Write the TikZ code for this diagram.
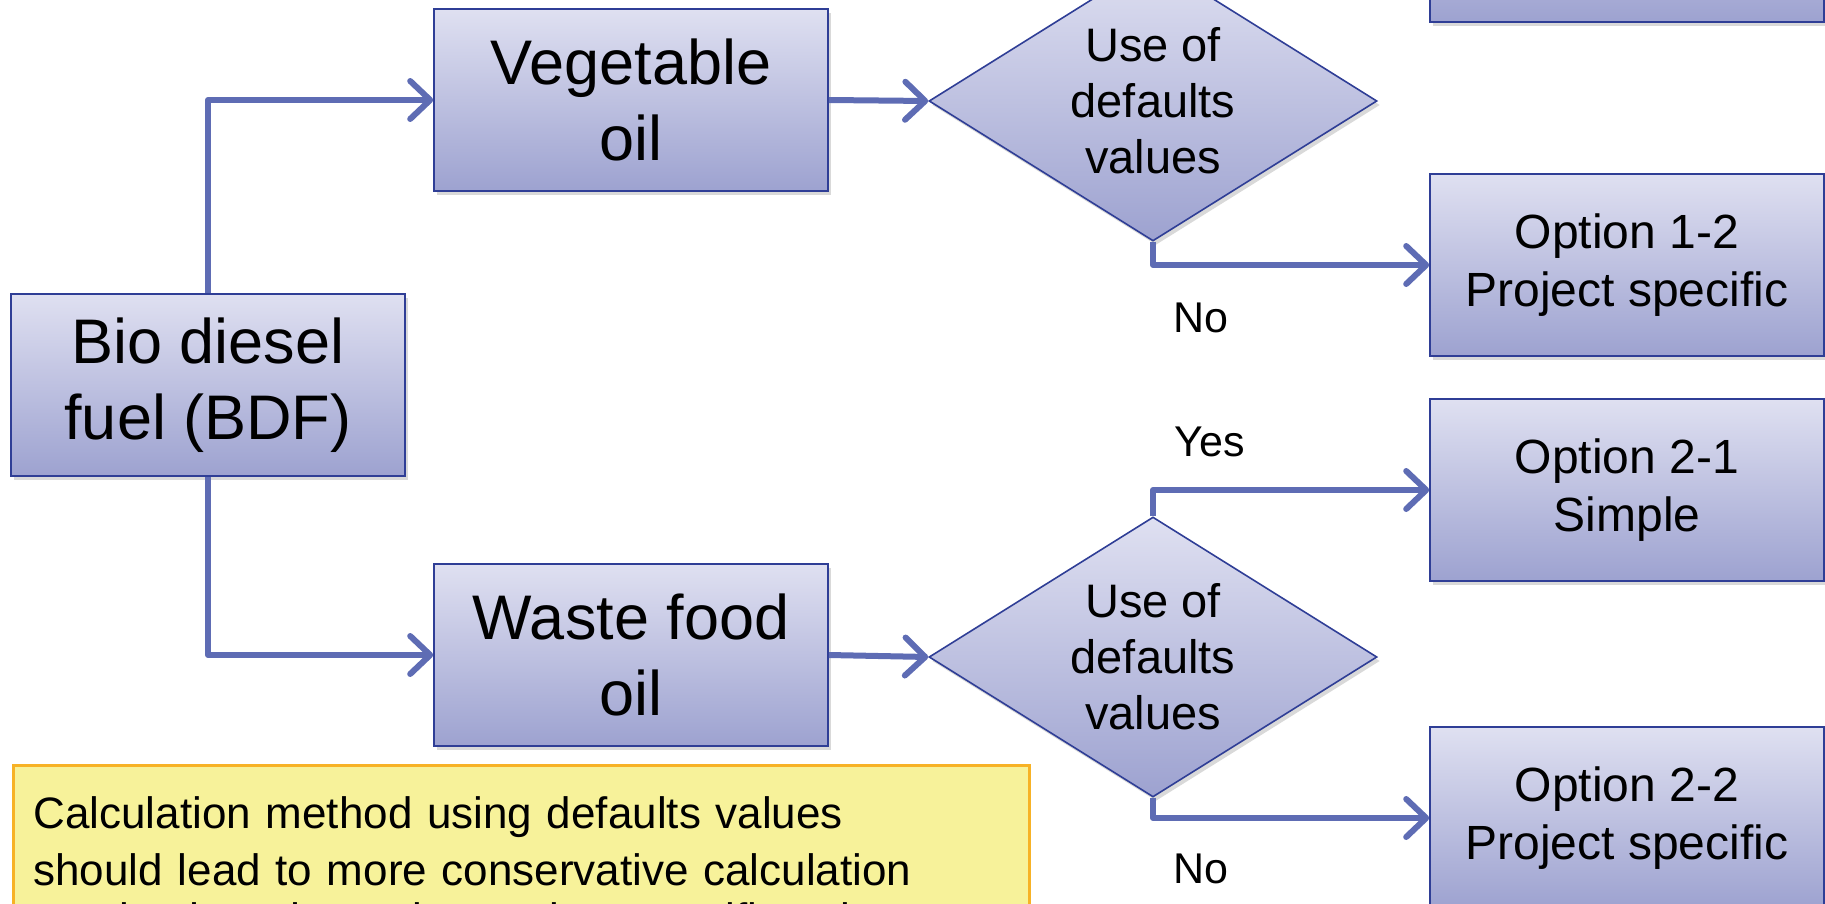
\documentclass[tikz,border=0pt]{standalone}
\usepackage{fontspec}
\setmainfont{Liberation Sans}
\usetikzlibrary{arrows.meta, shapes.geometric, shadows, positioning}
\definecolor{boxtop}{RGB}{223,224,241}
\definecolor{boxbottom}{RGB}{157,162,208}
\definecolor{boxline}{RGB}{47,62,150}
\definecolor{flowline}{RGB}{94,108,180}
\definecolor{notefill}{RGB}{247,242,154}
\definecolor{noteline}{RGB}{247,178,38}

\begin{document}
\begin{tikzpicture}
    [
        x=0.5pt, y=-0.5pt,
        box/.style={draw=boxline, line width=0.8pt, top color=boxtop, bottom color=boxbottom,
            minimum width=197pt, minimum height=91pt, align=center,
            font=\fontsize{31.5}{38}\selectfont,
            drop shadow={opacity=0.3, shadow xshift=1.5pt, shadow yshift=-2pt}},
        optbox/.style={box, font=\fontsize{24}{29}\selectfont},
        decision/.style={diamond, aspect=1.58, draw=boxline, line width=0.8pt, top color=boxtop, bottom color=boxbottom,
            minimum width=224pt, minimum height=140pt, inner sep=0pt, align=center,
            font=\fontsize{23.5}{28}\selectfont,
            drop shadow={opacity=0.3, shadow xshift=1.5pt, shadow yshift=-2pt}},
        answer/.style={font=\fontsize{21.5}{26}\selectfont},
        notebox/.style={draw=noteline, line width=1.5pt, fill=notefill, align=left,
            anchor=north west, minimum width=508pt, minimum height=105pt,
            inner xsep=10pt, inner ysep=5pt, text width=488pt,
            font=\fontsize{22}{28.5}\selectfont}
    ]
    \tikzstyle{line} = [draw=flowline, line width=3pt, line join=round,
        -{Straight Barb[length=10pt, width=19pt, round]}]

    \useasboundingbox (0,0) rectangle (1825,904);

    % Feedstock
    \node[box] (bdf) at (208,385) {Bio diesel\\fuel (BDF)};
    \node[box] (vegoil) at (631,100) {Vegetable\\oil};
    \node[box] (wasteoil) at (631,655) {Waste food\\oil};

    % Decisions
    \node[decision] (dec_veg) at (1153,101) {Use of\\defaults\\values};
    \node[decision] (dec_waste) at (1153,657) {Use of\\defaults\\values};

    % Options
    \node[optbox] (opt_11) at (1627,-69) {};
    \node[optbox] (opt_12) at (1627,265) {Option 1-2\\Project specific};
    \node[optbox] (opt_21) at (1627,490) {Option 2-1\\Simple};
    \node[optbox] (opt_22) at (1627,818) {Option 2-2\\Project specific};

    \path[line] (bdf.north) |- (vegoil.west);
    \path[line] (bdf.south) |- (wasteoil.west);
    \path[line] (vegoil.east) -- (dec_veg.west);
    \path[line] (wasteoil.east) -- (dec_waste.west);
    \path[line] (dec_veg.north) |- (opt_11.west);
    \path[line] (dec_veg.south) |- (opt_12.west);
    \path[line] (dec_waste.north) |- (opt_21.west);
    \path[line] (dec_waste.south) |- (opt_22.west);

    \node[answer] (no_veg) at (1201,318) {No};
    \node[answer] (yes_waste) at (1210,442) {Yes};
    \node[answer] (no_waste) at (1201,869) {No};

    % Note
    \node[notebox] (note) at (12,764) {Calculation method using defaults values\\
        should lead to more conservative calculation\\[-4pt]
        results than that using project specific values};

\end{tikzpicture}
\end{document}
